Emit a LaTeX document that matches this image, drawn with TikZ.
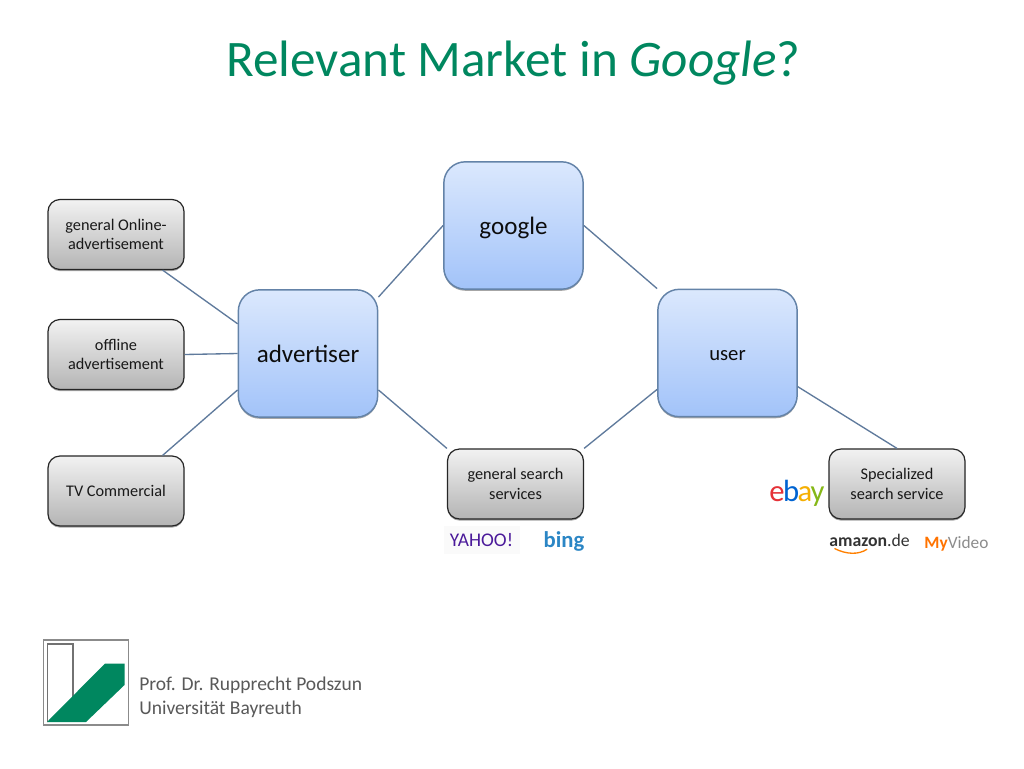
\documentclass[tikz,border=0pt]{standalone}
\usepackage{fontspec}
\setmainfont{Carlito}
\usetikzlibrary{shadows,calc}
\definecolor{titlegreen}{HTML}{00875F}
\definecolor{linkc}{HTML}{5F7A9C}
\definecolor{blueedge}{HTML}{6483A8}
\definecolor{foot}{HTML}{595959}
\definecolor{blueT}{HTML}{DBE8FD}
\definecolor{blueA}{HTML}{A2C3F9}
\definecolor{grayA}{HTML}{F2F2F2}
\definecolor{grayB}{HTML}{B4B4B4}
\definecolor{ebayR}{HTML}{E53238}
\definecolor{ebayB}{HTML}{0064D2}
\definecolor{ebayY}{HTML}{F5AF02}
\definecolor{ebayG}{HTML}{86B817}
\definecolor{bingc}{HTML}{2B86C5}
\definecolor{yahooc}{HTML}{4B1A9A}
\tikzset{
  x=0.75pt,y=-0.75pt,
  bluebox/.style={draw=blueedge,line width=1.1pt,rounded corners=16pt,top color=blueT,bottom color=blueA,
    minimum width=104.5pt,minimum height=95.5pt,inner sep=0pt,align=center,text=black!95,
    drop shadow={shadow xshift=0pt,shadow yshift=-1.2pt,opacity=.35,fill=black}},
  graybox/.style={draw=black!85,line width=0.9pt,rounded corners=9pt,top color=grayA,bottom color=grayB,
    minimum width=102pt,minimum height=52.5pt,inner sep=0pt,align=center,text=black!90,font=\fontsize{12.2}{14.6}\selectfont,
    drop shadow={shadow xshift=0pt,shadow yshift=-1.2pt,opacity=.35,fill=black}},
  link/.style={draw=linkc,line width=1pt},
  logo/.style={inner sep=0pt,anchor=center},
}
\newcommand{\hubtext}[2]{\raisebox{#1}[7pt][7pt]{#2}}
\begin{document}
\begin{tikzpicture}
\useasboundingbox (0,0) rectangle (1024,768);
\fill[white] (0,0) rectangle (1024,768);
\node[text=titlegreen,font=\fontsize{38.4}{42}\selectfont,inner sep=0pt] (title) at (513.5,63) {Relevant Market in \textit{Google}?};
% hubs
\node[bluebox,font=\fontsize{18.8}{22}\selectfont] (google) at (513.5,225.5) {\hubtext{-7pt}{google}};
\node[bluebox,font=\fontsize{18.8}{22}\selectfont] (adv) at (308,353.5) {\hubtext{-6.75pt}{advertiser}};
\node[bluebox,font=\fontsize{15.5}{17}\selectfont] (user) at (727.5,353) {\hubtext{-5.9pt}{user}};
% grey
\node[graybox] (online) at (116,234.5) {general Online-\\advertisement};
\node[graybox] (offline) at (116,354.5) {offline\\advertisement};
\node[graybox] (tv) at (116,491) {TV Commercial};
\node[graybox] (general) at (515.5,484) {general search\\services};
\node[graybox] (special) at (897,484) {Specialized\\search service};
% links
\draw[link] ([xshift=-16.5pt]online.south east) -- ([yshift=-26pt]adv.north west);
\draw[link] (offline.east) -- (adv.west);
\draw[link] ([xshift=-16.5pt]tv.north east) -- ([yshift=21pt]adv.south west);
\draw[link] ([yshift=-6pt]adv.north east) -- (google.west);
\draw[link] (google.east) -- (user.north west);
\draw[link] ([yshift=21pt]adv.south east) -- (general.north west);
\draw[link] (general.north east) -- ([yshift=21pt]user.south west);
\draw[link] ([yshift=23pt]user.south east) -- (special.north);
% logos
\node[logo,fill=black!2,minimum width=57pt,minimum height=21.5pt] (yahooback) at (482,540) {};
\node[logo,text=yahooc,font=\fontsize{14.5}{16}\selectfont] (yahoo) at (481.5,540) {YAHOO!};
\node[logo,text=bingc,font=\bfseries\fontsize{17}{18}\selectfont] (bing) at (564,541.5) {bing};
\node[logo,font=\fontsize{23}{24}\selectfont] (ebay) at (797,493) {\textcolor{ebayR}{e}\kern-1.2pt\textcolor{ebayB}{b}\kern-1.2pt\textcolor{ebayY}{a}\kern-1.2pt\textcolor{ebayG}{y}};
\node[logo,text=black!80,font=\fontsize{13.3}{15}\selectfont] (amazon) at (869.5,540) {\textbf{amazon}.de};
\draw[orange,line width=1pt,line cap=round] ([xshift=-26pt,yshift=-6.5pt]amazon.center) .. controls ([xshift=-17pt,yshift=-11pt]amazon.center) and ([xshift=-8pt,yshift=-11pt]amazon.center) .. ([xshift=-2pt,yshift=-7pt]amazon.center);
\node[logo,font=\fontsize{13}{15}\selectfont] (myvideo) at (956.5,544) {\textcolor{orange!90!red}{\textbf{My}}\textcolor{black!45}{Video}};
% university logo
\draw[foot!70,line width=.8pt] (43.5,640) rectangle (128.5,725);
\draw[foot!85,line width=.9pt] (47.5,722) -- (47.5,644) -- (73,644) -- (73,697);
\fill[titlegreen] (47,722) -- (105,663.5) -- (124.5,663.5) -- (124.5,685) -- (86,722) -- cycle;
\node[anchor=west,text=foot,align=left,inner sep=0pt,font=\fontsize{14.65}{18.1}\selectfont] (foot) at (139,697.7) {Prof. Dr. Rupprecht Podszun\\Universität Bayreuth};
\end{tikzpicture}
\end{document}
